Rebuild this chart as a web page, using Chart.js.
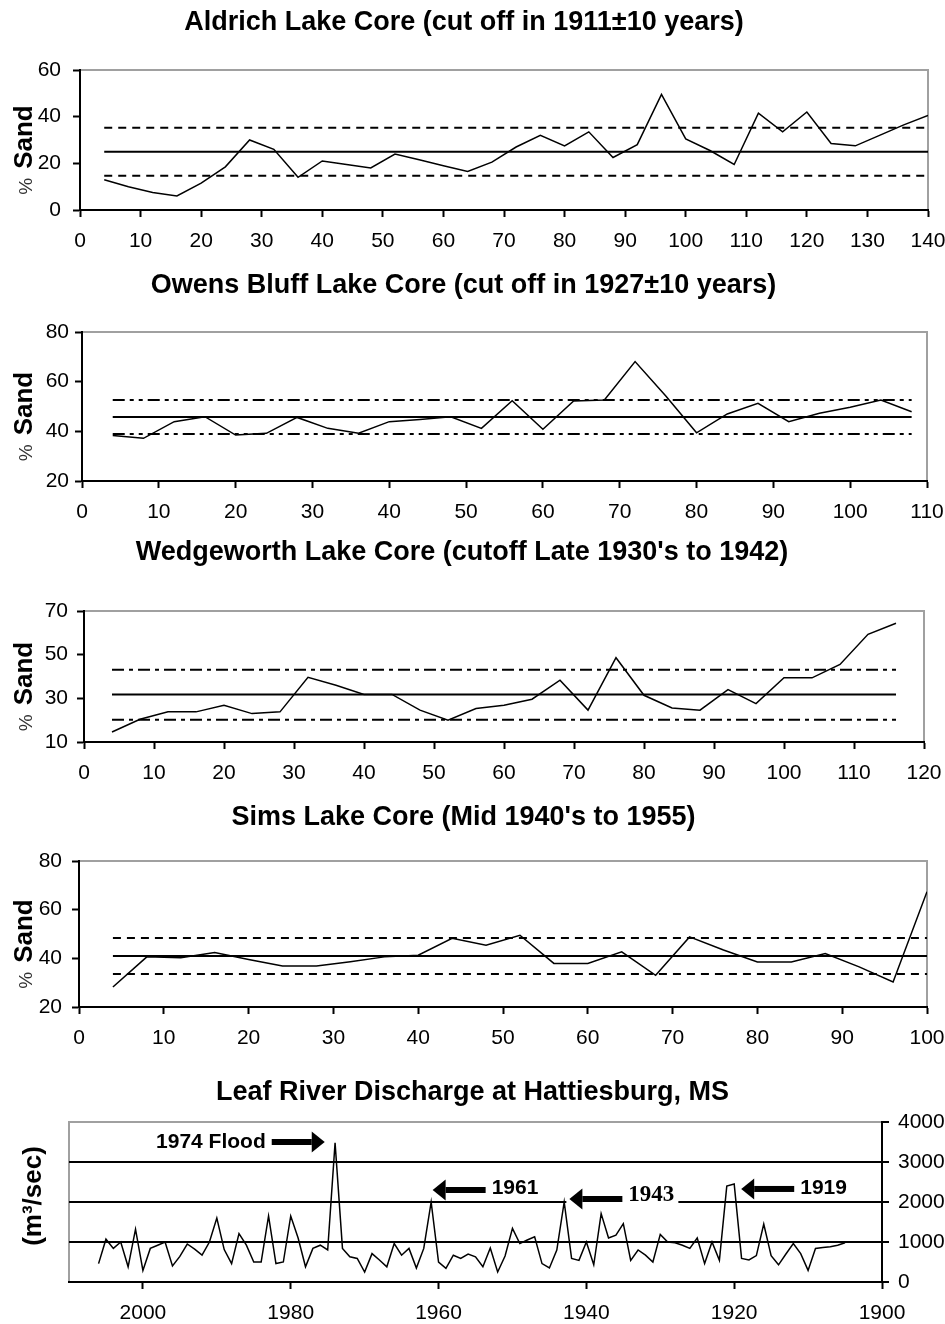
<!DOCTYPE html>
<html>
<head>
<meta charset="utf-8">
<title>Lake cores and Leaf River discharge</title>
<script src="https://cdn.jsdelivr.net/npm/chart.js@4.4.1/dist/chart.umd.min.js"></script>
<style>
  html, body { margin: 0; padding: 0; background: #fff; overflow: hidden; }
  .panel { position: absolute; left: 0; width: 945px; }
</style>
</head>
<body>
<div class="panel" style="top:0;height:255px"><canvas id="aldrich"></canvas></div>
<div class="panel" style="top:255px;height:270px"><canvas id="owens"></canvas></div>
<div class="panel" style="top:525px;height:265px"><canvas id="wedgeworth"></canvas></div>
<div class="panel" style="top:790px;height:270px"><canvas id="sims"></canvas></div>
<div class="panel" style="top:1060px;height:264px"><canvas id="leaf"></canvas></div>
<script>
// core depth (x) and % sand (y)
const aldrichDepth = [4, 8, 12, 16, 20, 24, 28, 32, 36, 40, 44, 48, 52, 56, 60, 64, 68, 72,
    76, 80, 84, 88, 92, 96, 100, 104, 108, 112, 116, 120, 124, 128, 132, 136, 140];
const aldrichSand = [13, 10, 7.5, 6, 11.5, 18.5, 30, 26, 14, 21, 19.5, 18, 24, 21.5, 19, 16.5, 20.5, 27,
    32, 27.5, 33.5, 22.5, 28, 49.5, 30.5, 25.5, 19.5, 41.5, 33.5, 42, 28.5, 27.5, 32, 36.5, 40.5];
const aldrichBands = [14.7, 25, 35.3]; // lower, mean, upper

const owensDepth = [4, 8, 12, 16, 20, 24, 28, 32, 36, 40, 44, 48, 52, 56, 60, 64, 68, 72,
    76, 80, 84, 88, 92, 96, 100, 104, 108];
const owensSand = [38.3, 37.2, 43.9, 45.9, 38.5, 39.2, 45.6, 41.2, 39.2, 43.9, 44.8, 45.9, 41.2, 52.3,
    40.8, 52.2, 52.6, 68.1, 54.2, 39.4, 47, 51.3, 43.9, 47.3, 49.7, 52.6, 47.9];
const owensBands = [38.9, 45.8, 52.6];

const wedgeDepth = [4, 8, 12, 16, 20, 24, 28, 32, 36, 40, 44, 48, 52, 56, 60, 64, 68, 72,
    76, 80, 84, 88, 92, 96, 100, 104, 108, 112, 116];
const wedgeSand = [14.6, 20.4, 23.8, 23.8, 26.8, 23, 23.8, 39.6, 36, 31.8, 31.8, 24.6, 20, 25.3, 26.8,
    29.6, 38.3, 24.6, 48.6, 31.4, 25.6, 24.6, 34, 27.6, 39.4, 39.4, 45.5, 59.3, 64.4];
const wedgeBands = [20.2, 31.8, 43.1];

const simsDepth = [4, 8, 12, 16, 20, 24, 28, 32, 36, 40, 44, 48, 52, 56, 60, 64, 68, 72,
    76, 80, 84, 88, 92, 96, 100];
const simsSand = [28.2, 40.6, 40.2, 42.4, 39.5, 36.9, 36.9, 38.6, 40.6, 41.3, 48.2, 45.4, 49.5, 37.9,
    37.9, 42.7, 33, 48.8, 43.4, 38.5, 38.5, 42, 36.5, 30.3, 67.4];
const simsBands = [33.6, 41, 48.4];

// Leaf River annual discharge (m3/sec)
const leafYear = [2006, 2005, 2004, 2003, 2002, 2001, 2000, 1999, 1998, 1997,
    1996, 1995, 1994, 1993, 1992, 1991, 1990, 1989, 1988, 1987,
    1986, 1985, 1984, 1983, 1982, 1981, 1980, 1979, 1978, 1977,
    1976, 1975, 1974, 1973, 1972, 1971, 1970, 1969, 1968, 1967,
    1966, 1965, 1964, 1963, 1962, 1961, 1960, 1959, 1958, 1957,
    1956, 1955, 1954, 1953, 1952, 1951, 1950, 1949, 1948, 1947,
    1946, 1945, 1944, 1943, 1942, 1941, 1940, 1939, 1938, 1937,
    1936, 1935, 1934, 1933, 1932, 1931, 1930, 1929, 1928, 1927,
    1926, 1925, 1924, 1923, 1922, 1921, 1920, 1919, 1918, 1917,
    1916, 1915, 1914, 1913, 1912, 1911, 1910, 1909, 1908, 1907,
    1906, 1905];
const leafDischarge = [460, 1070, 840, 1000, 380, 1320, 290, 840, 920, 1000,
    400, 640, 950, 820, 670, 1000, 1600, 810, 460, 1210,
    920, 500, 500, 1650, 460, 500, 1650, 1100, 380, 840,
    920, 800, 3480, 840, 630, 590, 250, 710, 550, 380,
    960, 670, 840, 350, 840, 2000, 500, 340, 670, 590,
    700, 630, 380, 850, 250, 650, 1340, 960, 1050, 1130,
    460, 350, 800, 2000, 590, 540, 1000, 430, 1710, 1100,
    1170, 1460, 540, 800, 670, 500, 1190, 1000, 980, 920,
    840, 1100, 460, 1000, 540, 2400, 2450, 590, 550, 660,
    1450, 660, 430, 700, 960, 710, 290, 840, 860, 880,
    920, 980];
const leafYearTicks = [2000, 1980, 1960, 1940, 1920, 1900];

const SANS = '"Liberation Sans", Arial, sans-serif';
const SERIF = '"Liberation Serif", "Times New Roman", serif';

const framePlugin = {
    id: 'frame',
    beforeDraw(chart) {
        const a = chart.chartArea, ctx = chart.ctx;
        ctx.save();
        ctx.strokeStyle = '#a0a0a0';
        ctx.lineWidth = 2;
        ctx.strokeRect(a.left, a.top, a.right - a.left, a.bottom - a.top);
        ctx.restore();
    }
};

// rotated axis label made of several pieces ("%" regular, "Sand" bold)
const sideLabelPlugin = {
    id: 'sideLabel',
    afterDraw(chart, args, opts) {
        if (!opts.parts) return;
        const ctx = chart.ctx, a = chart.chartArea;
        ctx.save();
        let total = opts.gap * (opts.parts.length - 1);
        const widths = opts.parts.map(p => {
            ctx.font = p.font;
            const w = ctx.measureText(p.text).width;
            total += w;
            return w;
        });
        ctx.translate(opts.x, (a.top + a.bottom) / 2 + opts.dy);
        ctx.rotate(-Math.PI / 2);
        ctx.textBaseline = 'alphabetic';
        ctx.textAlign = 'left';
        let cx = -total / 2;
        opts.parts.forEach((p, i) => {
            ctx.font = p.font;
            ctx.fillStyle = p.color || '#000';
            ctx.fillText(p.text, cx, 0);
            cx += widths[i] + opts.gap;
        });
        ctx.restore();
    }
};

// arrows with labels pointing at flood peaks
const notesPlugin = {
    id: 'notes',
    afterDatasetsDraw(chart, args, opts) {
        if (!opts.items) return;
        const ctx = chart.ctx, xs = chart.scales.x, ys = chart.scales.y;
        opts.items.forEach(n => {
            const tx = xs.getPixelForValue(n.year), ty = ys.getPixelForValue(n.value);
            const s = n.dir === 'right' ? -1 : 1;
            const tail = tx + s * 53;
            ctx.save();
            ctx.font = n.font;
            const w = ctx.measureText(n.text).width;
            const textX = tail + s * 6;
            if (n.mask) {
                ctx.fillStyle = '#fff';
                ctx.fillRect(tx - 3, ty - 13, textX + w + 4 - (tx - 3), 24);
            }
            ctx.fillStyle = '#000';
            const base = tx + s * 13;
            ctx.fillRect(Math.min(base, tail), ty - 3, Math.abs(tail - base), 6);
            ctx.beginPath();
            ctx.moveTo(tx, ty);
            ctx.lineTo(base, ty - 10.5);
            ctx.lineTo(base, ty + 10.5);
            ctx.closePath();
            ctx.fill();
            ctx.textBaseline = 'middle';
            ctx.textAlign = s > 0 ? 'left' : 'right';
            ctx.fillText(n.text, textX, ty + (n.dy || 0));
            ctx.restore();
        });
    }
};

function toPoints(xs, ys) {
    return xs.map((x, i) => ({x: x, y: ys[i]}));
}

function hLine(x0, x1, y, width, dash) {
    return {
        data: [{x: x0, y: y}, {x: x1, y: y}],
        borderColor: '#000', borderWidth: width, borderDash: dash,
        pointRadius: 0, tension: 0
    };
}

function sandSets(depth, sand, bands, dash) {
    const x0 = depth[0], x1 = depth[depth.length - 1];
    return [
        {data: toPoints(depth, sand), borderColor: '#000', borderWidth: 1.5, pointRadius: 0, tension: 0},
        hLine(x0, x1, bands[1], 2, []),
        hLine(x0, x1, bands[2], 2, dash),
        hLine(x0, x1, bands[0], 2, dash)
    ];
}

function drawPanel(id, p) {
    const box = p.box, plot = p.plot, fs = 27;
    const tTop = p.titleY - box.top - fs * 0.6;
    const tBottom = (plot.t - box.top) - tTop - fs * 1.2;
    const xHeight = box.top + box.height - plot.b;
    const tickFont = {family: SANS, size: 21};
    const axisGrid = {drawOnChartArea: false, drawTicks: true, tickLength: 7, tickWidth: 2, tickColor: '#000'};

    const scales = {
        x: {
            type: 'linear', min: p.x.min, max: p.x.max, reverse: !!p.x.reverse,
            ticks: {
                stepSize: p.x.step, color: '#000', font: tickFont, padding: 12,
                maxRotation: 0, autoSkip: false, callback: v => String(v)
            },
            grid: axisGrid,
            border: {color: '#000', width: 2},
            afterFit: s => {
                s.height = xHeight;
                s.paddingLeft = 0;
                s.paddingRight = 0;
            }
        }
    };
    if (p.x.ticks) {
        scales.x.afterBuildTicks = s => { s.ticks = p.x.ticks.map(v => ({value: v})); };
    }

    if (p.rightAxis) {
        scales.y = {
            type: 'linear', position: 'right', min: p.y.min, max: p.y.max,
            ticks: {stepSize: p.y.step, color: '#000', font: tickFont, padding: p.yPad, callback: v => String(v)},
            grid: {
                drawOnChartArea: true, drawTicks: true, tickLength: 7, tickWidth: 2, tickColor: '#000',
                lineWidth: 2,
                color: c => (c.tick && c.tick.value > p.y.min && c.tick.value < p.y.max) ? '#000' : 'rgba(0,0,0,0)'
            },
            border: {color: '#000', width: 2},
            afterFit: s => { s.width = 945 - plot.r; }
        };
        scales.yl = {
            type: 'linear', position: 'left', display: true,
            ticks: {display: false}, grid: {display: false}, border: {display: false},
            afterFit: s => { s.width = plot.l; }
        };
    } else {
        scales.y = {
            type: 'linear', position: 'left', min: p.y.min, max: p.y.max,
            ticks: {stepSize: p.y.step, color: '#000', font: tickFont, padding: p.yPad},
            grid: axisGrid,
            border: {color: '#000', width: 2},
            afterFit: s => { s.width = plot.l; }
        };
    }

    new Chart(document.getElementById(id), {
        type: 'line',
        data: {datasets: p.datasets},
        options: {
            responsive: true,
            maintainAspectRatio: false,
            animation: false,
            events: [],
            layout: {padding: {left: 0, right: p.rightAxis ? 0 : 945 - plot.r, top: 0, bottom: 0}},
            plugins: {
                legend: {display: false},
                tooltip: {enabled: false},
                title: {
                    display: true, text: p.title, color: '#000',
                    font: {family: SANS, size: fs, weight: 'bold'},
                    padding: {top: tTop, bottom: tBottom}
                },
                sideLabel: p.sideLabel,
                notes: p.notes || {}
            },
            scales: scales
        },
        plugins: [framePlugin, sideLabelPlugin, notesPlugin]
    });
}

const sandLabel = {
    x: 32, dy: 10, gap: 9,
    parts: [
        {text: '%', font: '19px ' + SANS, color: '#333'},
        {text: 'Sand', font: 'bold 26px ' + SANS}
    ]
};

document.addEventListener('DOMContentLoaded', function () {
    drawPanel('aldrich', {
        title: 'Aldrich Lake Core (cut off in 1911\u00b110 years)', titleY: 23,
        box: {top: 0, height: 255}, plot: {l: 80, t: 70, r: 928, b: 210},
        x: {min: 0, max: 140, step: 10}, y: {min: 0, max: 60, step: 20}, yPad: 12,
        datasets: sandSets(aldrichDepth, aldrichSand, aldrichBands, [8, 6]),
        sideLabel: sandLabel
    });

    drawPanel('owens', {
        title: 'Owens Bluff Lake Core (cut off in 1927\u00b110 years)', titleY: 286,
        box: {top: 255, height: 270}, plot: {l: 82, t: 332, r: 927, b: 481},
        x: {min: 0, max: 110, step: 10}, y: {min: 20, max: 80, step: 20}, yPad: 6,
        datasets: sandSets(owensDepth, owensSand, owensBands, [12, 5, 4, 5, 4, 5]),
        sideLabel: sandLabel
    });

    drawPanel('wedgeworth', {
        title: "Wedgeworth Lake Core (cutoff Late 1930's to 1942)", titleY: 553,
        box: {top: 525, height: 265}, plot: {l: 84, t: 611, r: 924, b: 742},
        x: {min: 0, max: 120, step: 10}, y: {min: 10, max: 70, step: 20}, yPad: 9,
        datasets: sandSets(wedgeDepth, wedgeSand, wedgeBands, [12, 5, 4, 5]),
        sideLabel: sandLabel
    });

    drawPanel('sims', {
        title: "Sims Lake Core (Mid 1940's to 1955)", titleY: 818,
        box: {top: 790, height: 270}, plot: {l: 79, t: 861, r: 927, b: 1007},
        x: {min: 0, max: 100, step: 10}, y: {min: 20, max: 80, step: 20}, yPad: 10,
        datasets: sandSets(simsDepth, simsSand, simsBands, [8, 6]),
        sideLabel: sandLabel
    });

    drawPanel('leaf', {
        title: 'Leaf River Discharge at Hattiesburg, MS', titleY: 1093,
        box: {top: 1060, height: 264}, plot: {l: 69, t: 1122, r: 882, b: 1282},
        x: {min: 1900, max: 2010, step: 20, reverse: true, ticks: leafYearTicks},
        y: {min: 0, max: 4000, step: 1000}, yPad: 9, rightAxis: true,
        datasets: [
            {data: toPoints(leafYear, leafDischarge), borderColor: '#000', borderWidth: 1.5, pointRadius: 0, tension: 0}
        ],
        sideLabel: {x: 41, dy: -6, gap: 0, parts: [{text: '(m\u00b3/sec)', font: 'bold 26px ' + SANS}]},
        notes: {
            items: [
                {text: '1974 Flood', year: 1975.4, value: 3500, dir: 'right', font: 'bold 21px ' + SANS},
                {text: '1961', year: 1960.8, value: 2300, dir: 'left', dy: -2, font: 'bold 21px ' + SANS},
                {text: '1943', year: 1942.3, value: 2075, dir: 'left', dy: -4, mask: true, font: 'bold 23px ' + SERIF},
                {text: '1919', year: 1919.05, value: 2326, dir: 'left', dy: -1, font: 'bold 21px ' + SANS}
            ]
        }
    });
});
</script>
</body>
</html>
